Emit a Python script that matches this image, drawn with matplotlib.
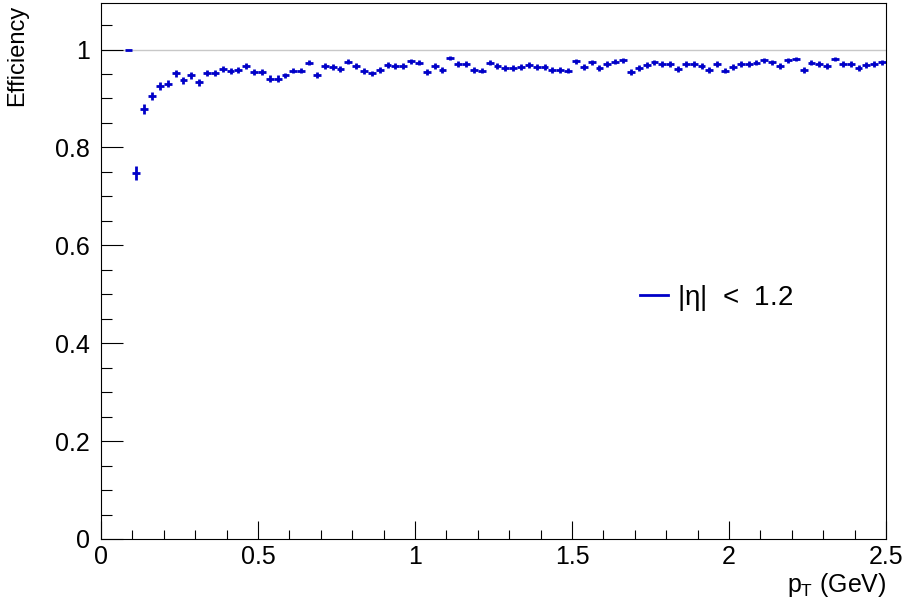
import numpy as np
import matplotlib
matplotlib.use("Agg")
import matplotlib.pyplot as plt
from matplotlib.lines import Line2D
from matplotlib.ticker import MultipleLocator, FormatStrFormatter

# ==============================
# DATA
# ==============================

pt_first_edge = 0.075
bin_width = 0.025

eff = [
    1.000, 0.748, 0.879, 0.905, 0.925, 0.930, 0.951, 0.937, 0.947, 0.933,
    0.952, 0.952, 0.960, 0.956, 0.959, 0.967, 0.954, 0.954, 0.940, 0.940,
    0.947, 0.957, 0.957, 0.973, 0.948, 0.966, 0.964, 0.960, 0.975, 0.967,
    0.956, 0.951, 0.959, 0.969, 0.967, 0.967, 0.976, 0.973, 0.954, 0.967,
    0.959, 0.982, 0.970, 0.970, 0.959, 0.957, 0.973, 0.966, 0.963, 0.962,
    0.965, 0.969, 0.964, 0.964, 0.959, 0.959, 0.957, 0.976, 0.965, 0.974,
    0.963, 0.970, 0.975, 0.978, 0.954, 0.963, 0.969, 0.974, 0.970, 0.970,
    0.960, 0.970, 0.970, 0.967, 0.958, 0.970, 0.957, 0.964, 0.970, 0.970,
    0.973, 0.978, 0.974, 0.967, 0.978, 0.980, 0.959, 0.973, 0.970, 0.966,
    0.981, 0.971, 0.970, 0.963, 0.968, 0.970, 0.974,
]

eff_err = [
    0.000, 0.014, 0.010, 0.008, 0.008, 0.007, 0.007, 0.007, 0.007, 0.007,
    0.007, 0.007, 0.006, 0.006, 0.006, 0.006, 0.006, 0.006, 0.007, 0.007,
    0.006, 0.006, 0.006, 0.005, 0.006, 0.006, 0.006, 0.006, 0.005, 0.006,
    0.006, 0.006, 0.006, 0.006, 0.006, 0.006, 0.005, 0.005, 0.006, 0.006,
    0.006, 0.004, 0.006, 0.006, 0.006, 0.006, 0.005, 0.006, 0.006, 0.006,
    0.006, 0.006, 0.006, 0.006, 0.006, 0.006, 0.006, 0.005, 0.006, 0.005,
    0.006, 0.006, 0.005, 0.005, 0.006, 0.006, 0.006, 0.005, 0.006, 0.006,
    0.006, 0.006, 0.006, 0.006, 0.006, 0.006, 0.006, 0.006, 0.006, 0.006,
    0.005, 0.005, 0.005, 0.006, 0.005, 0.004, 0.006, 0.005, 0.006, 0.006,
    0.004, 0.006, 0.006, 0.006, 0.006, 0.006, 0.005,
]

pt = pt_first_edge + bin_width * (np.arange(len(eff)) + 0.5)

# ==============================
# STYLE
# ==============================

plt.rcParams['font.family'] = ['Liberation Sans', 'DejaVu Sans']
plt.rcParams['mathtext.fontset'] = 'custom'
plt.rcParams['mathtext.rm'] = 'Liberation Sans'
plt.rcParams['mathtext.it'] = 'Liberation Sans'

blue = '#0000c8'

# ==============================
# PLOT
# ==============================

fig = plt.figure(figsize=(9.04, 6.05), dpi=100)
ax = fig.add_axes([101 / 904, 1 - 539 / 605, 785 / 904, 536 / 605])

ax.axhline(1.0, color='#c8c8c8', lw=1.0, zorder=1)

ax.errorbar(pt, eff, xerr=bin_width / 2, yerr=eff_err, fmt='none',
            ecolor=blue, elinewidth=2.0, capsize=0, zorder=3)

ax.set_xlim(0, 2.5)
ax.set_ylim(0, 1.095)

ax.xaxis.set_major_locator(MultipleLocator(0.5))
ax.xaxis.set_minor_locator(MultipleLocator(0.1))
ax.yaxis.set_major_locator(MultipleLocator(0.2))
ax.yaxis.set_minor_locator(MultipleLocator(0.05))
ax.xaxis.set_major_formatter(FormatStrFormatter('%g'))
ax.yaxis.set_major_formatter(FormatStrFormatter('%g'))

ax.tick_params(axis='both', which='both', direction='in', top=False,
               right=False, width=0.8, labelsize=18)
ax.tick_params(axis='y', which='major', length=16, pad=8)
ax.tick_params(axis='y', which='minor', length=8)
ax.tick_params(axis='x', which='major', length=12.7, pad=4)
ax.tick_params(axis='x', which='minor', length=6.7)

for s in ax.spines.values():
    s.set_linewidth(0.8)

ax.set_ylabel("Efficiency", fontsize=17, loc='top')
ax.yaxis.set_label_coords(-0.093, 0.997)
ax.set_xlabel("$p_{T}$ (GeV)", fontsize=18, loc='right')
ax.xaxis.set_label_coords(1.0, -0.06)

handle = Line2D([], [], color=blue, lw=2)
ax.legend([handle], [r"|$\eta$|  <  1.2"], loc='center left',
          bbox_to_anchor=(640 / 904, 1 - 298 / 605),
          bbox_transform=fig.transFigure, frameon=False, fontsize=20,
          handlelength=1.0, handletextpad=0.35, borderpad=0,
          borderaxespad=0)

plt.savefig("out.png", dpi=100)
